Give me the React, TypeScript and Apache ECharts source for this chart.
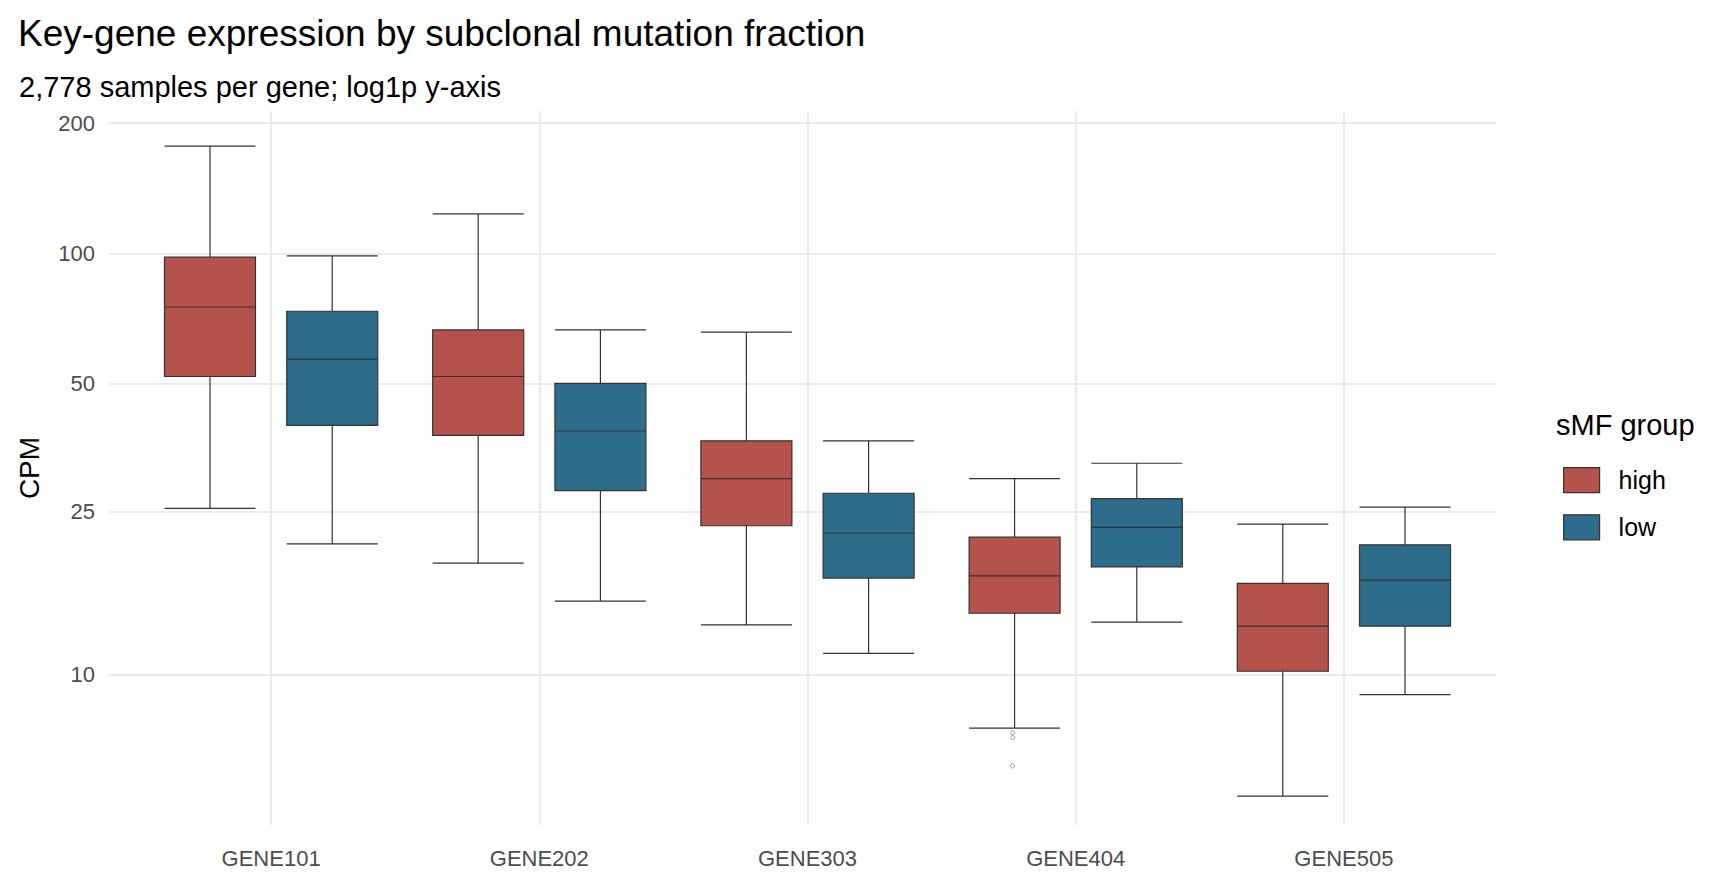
import { useEffect, useRef } from "react";
import * as echarts from "echarts";

const genes = ["GENE101", "GENE202", "GENE303", "GENE404", "GENE505"];
// [lower whisker, q1, median, q3, upper whisker] in CPM
const highBoxes = [
  [25.4, 51.9, 75.3, 98.2, 177],
  [18.8, 37.8, 51.9, 66.6, 123.6],
  [13.3, 23.1, 29.9, 36.7, 65.8],
  [7.3, 14.2, 17.5, 21.7, 29.9],
  [4.8, 10.2, 13.2, 16.8, 23.3],
];
const lowBoxes = [
  [20.9, 39.9, 57, 73.6, 98.9],
  [15.2, 28, 38.7, 50, 66.6],
  [11.3, 17.3, 22.2, 27.6, 36.7],
  [13.5, 18.4, 22.9, 26.8, 32.5],
  [8.9, 13.2, 17.1, 20.8, 25.6],
];
const highOutliers: [string, number][] = [
  ["GENE404", 7.1],
  ["GENE404", 6.9],
  ["GENE404", 5.8],
];
const yTicks = [10, 25, 50, 100, 200];

const lp = (v: number) => Math.log1p(v);
const Y_MIN = 1.606;
const Y_MAX = 5.367;

const HIGH = "#b5524b";
const LOW = "#2e6c8c";

export default function App() {
  const ref = useRef<HTMLDivElement>(null);

  useEffect(() => {
    if (!ref.current) return;
    const chart = echarts.init(ref.current, null, { renderer: "svg" });
    const font = "Liberation Sans, Arial, sans-serif";

    chart.setOption({
      animation: false,
      backgroundColor: "#fff",
      textStyle: { fontFamily: font },
      title: [
        { text: "Key-gene expression by subclonal mutation fraction", left: 13, top: 10, textStyle: { fontSize: 37, fontWeight: "normal", color: "#000", fontFamily: font } },
        { text: "2,778 samples per gene; log1p y-axis", left: 14, top: 67, textStyle: { fontSize: 29, fontWeight: "normal", color: "#000", fontFamily: font } },
        { text: "sMF group", left: 1551, top: 405, textStyle: { fontSize: 29, fontWeight: "normal", color: "#000", fontFamily: font } },
      ],
      legend: {
        left: 1558, top: 462, orient: "vertical", itemWidth: 36, itemHeight: 25, itemGap: 21,
        icon: "rect",
        textStyle: { fontSize: 25, color: "#000", padding: [0, 0, 0, 14] },
        data: [
          { name: "high", itemStyle: { color: HIGH, borderColor: "#333", borderWidth: 1.2 } },
          { name: "low", itemStyle: { color: LOW, borderColor: "#333", borderWidth: 1.2 } },
        ],
      },
      grid: [
        { left: 109, right: 232, top: 111, bottom: 58 },
        { left: 137, right: 250, top: 111, bottom: 58 },
      ],
      xAxis: [
        { type: "value", gridIndex: 0, show: false, min: 0, max: 1 },
        {
          type: "category", gridIndex: 1, data: genes,
          axisLine: { show: false }, axisTick: { show: false }, splitLine: { show: false },
          axisLabel: { fontSize: 22, color: "#4d4d4d", margin: 22 },
        },
      ],
      yAxis: [
        {
          type: "value", gridIndex: 0, min: Y_MIN, max: Y_MAX,
          axisLine: { show: false },
          axisTick: { show: false, customValues: yTicks.map(lp) },
          axisLabel: { customValues: yTicks.map(lp), formatter: (v: number) => String(Math.round(Math.expm1(v))), fontSize: 22, color: "#4d4d4d", margin: 14 },
          splitLine: { lineStyle: { color: "#ebebeb", width: 2 } },
          name: "CPM", nameLocation: "middle", nameGap: 66, nameRotate: 90,
          nameTextStyle: { fontSize: 28, color: "#000" },
        },
        { type: "value", gridIndex: 1, min: Y_MIN, max: Y_MAX, show: false, splitLine: { show: false } },
      ],
      series: [
        {
          type: "line", xAxisIndex: 1, yAxisIndex: 1, data: [], z: 1, silent: true,
          markLine: {
            symbol: "none", silent: true, label: { show: false },
            lineStyle: { color: "#ebebeb", width: 2, type: "solid" },
            data: genes.map(g => ({ xAxis: g })),
          },
        },
        {
          name: "high", type: "boxplot", xAxisIndex: 1, yAxisIndex: 1, boxWidth: [91, 91],
          itemStyle: { color: HIGH, borderColor: "#333333", borderWidth: 1.2 },
          data: highBoxes.map(b => b.map(lp)),
        },
        {
          name: "low", type: "boxplot", xAxisIndex: 1, yAxisIndex: 1, boxWidth: [91, 91],
          itemStyle: { color: LOW, borderColor: "#333333", borderWidth: 1.2 },
          data: lowBoxes.map(b => b.map(lp)),
        },
        {
          type: "scatter", xAxisIndex: 1, yAxisIndex: 1, symbolSize: 4, symbolOffset: [-63, 0],
          itemStyle: { color: "transparent", borderColor: "#666", borderWidth: 0.8 },
          data: highOutliers.map(([g, v]) => [g, lp(v)]),
        },
      ],
    });

    return () => chart.dispose();
  }, []);

  return <div ref={ref} style={{ width: 1728, height: 883, margin: -8 }} />;
}
